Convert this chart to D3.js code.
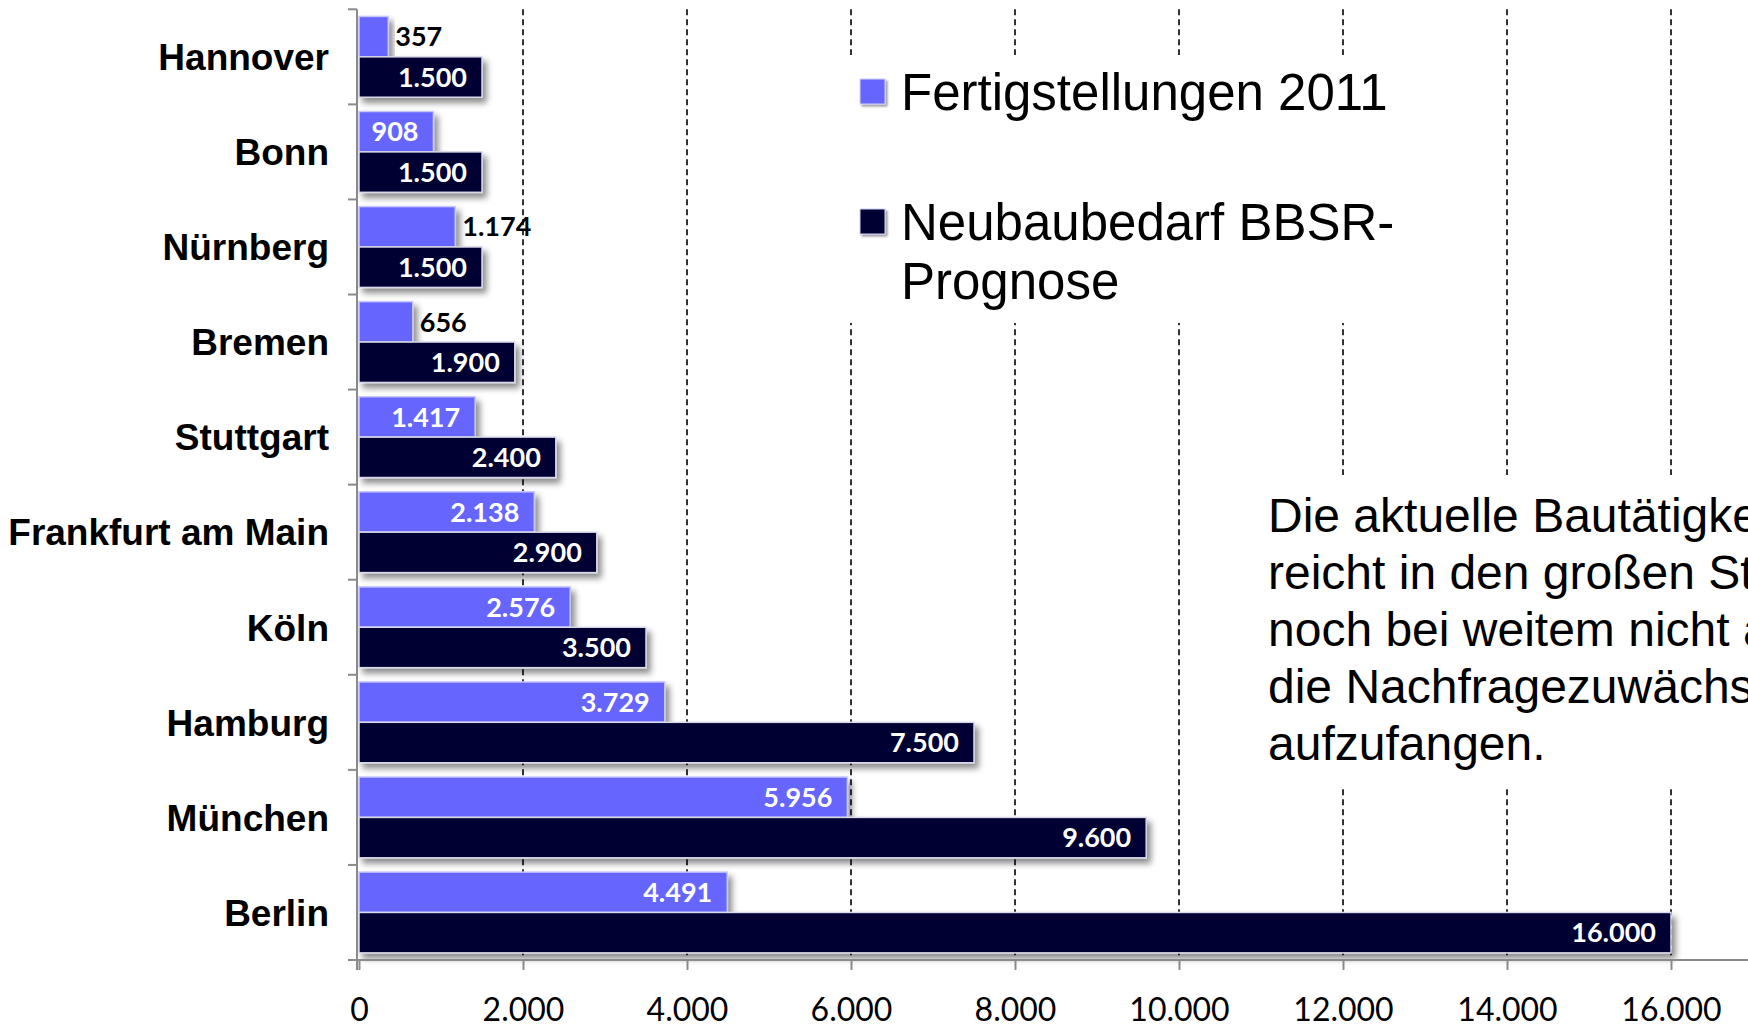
<!DOCTYPE html>
<html>
<head>
<meta charset="utf-8">
<script src="https://cdn.jsdelivr.net/npm/d3@7"></script>
<style>
  html, body { margin: 0; padding: 0; background: #fff; overflow: hidden; }
  svg { display: block; }
</style>
</head>
<body>
<svg id="chart" width="1748" height="1028"></svg>
<script>
// ---- data ----
const cities = ["Hannover", "Bonn", "Nürnberg", "Bremen", "Stuttgart", "Frankfurt am Main", "Köln", "Hamburg", "München", "Berlin"];
const fertigstellungen2011 = [357, 908, 1174, 656, 1417, 2138, 2576, 3729, 5956, 4491];
const neubaubedarf = [1500, 1500, 1500, 1900, 2400, 2900, 3500, 7500, 9600, 16000];
const xTicks = [0, 2000, 4000, 6000, 8000, 10000, 12000, 14000, 16000, 18000];
const seriesNames = ["Fertigstellungen 2011", ["Neubaubedarf BBSR-", "Prognose"]];
const outsideLabelCities = ["Hannover", "Nürnberg", "Bremen"];
const noteLines = ["Die aktuelle Bautätigkeit", "reicht in den großen Städten", "noch bei weitem nicht aus, um", "die Nachfragezuwächse", "aufzufangen."];

// ---- setup ----
const colors = ["#6666ff", "#000033"];
const de = d3.formatLocale({decimal: ",", thousands: ".", grouping: [3], currency: ["", "€"]});
const fmt = de.format(",d");

const svg = d3.select("#chart");
const W = 1748, H = 1028;
const x0 = 359, plotTop = 9.3, plotBottom = 960;

const x = d3.scaleLinear().domain([0, 18000]).range([x0, x0 + 18 * 82]);
const y = d3.scaleBand().domain(cities).range([plotTop, plotBottom]).paddingInner(0.15).paddingOuter(0.075);
const sub = d3.scaleBand().domain([0, 1]).range([0, y.bandwidth()]);

const defs = svg.append("defs");
const f = defs.append("filter").attr("id", "shadow").attr("x", "-10%").attr("y", "-30%").attr("width", "130%").attr("height", "180%");
f.append("feDropShadow").attr("dx", 4).attr("dy", 5).attr("stdDeviation", 3).attr("flood-color", "#000").attr("flood-opacity", 0.45);
const fs = defs.append("filter").attr("id", "shadowSmall").attr("x", "-20%").attr("y", "-20%").attr("width", "160%").attr("height", "160%");
fs.append("feDropShadow").attr("dx", 2).attr("dy", 2).attr("stdDeviation", 1.2).attr("flood-color", "#000").attr("flood-opacity", 0.4);

// ---- gridlines ----
svg.append("g").selectAll("line").data(xTicks.filter(d => d > 0)).join("line")
  .attr("x1", d => x(d)).attr("x2", d => x(d))
  .attr("y1", plotTop).attr("y2", plotBottom)
  .attr("stroke", "#000").attr("stroke-width", 1.6).attr("stroke-dasharray", "6,4");

// ---- white boxes (legend and note) covering gridlines ----
svg.append("rect").attr("x", 838).attr("y", 55).attr("width", 565).attr("height", 268).attr("fill", "#fff");
svg.append("rect").attr("x", 1245).attr("y", 475).attr("width", 520).attr("height", 311).attr("fill", "#fff");

// ---- bars ----
const rows = cities.map((c, i) => ({city: c, vals: [fertigstellungen2011[i], neubaubedarf[i]]}));
const groups = svg.append("g").selectAll("g").data(rows).join("g")
  .attr("transform", d => `translate(0,${y(d.city)})`);

groups.selectAll("rect").data(d => d.vals.map((v, k) => ({v, k, city: d.city}))).join("rect")
  .attr("x", x(0))
  .attr("y", d => sub(d.k))
  .attr("width", d => x(d.v) - x(0))
  .attr("height", sub.bandwidth())
  .attr("fill", d => colors[d.k])
  .attr("stroke", d => d.k === 0 ? "#c8c8ff" : "#d8d8e8")
  .attr("stroke-width", 1.5)
  .attr("filter", "url(#shadow)");

// ---- value labels ----
const lblSize = 27;
groups.selectAll("text").data(d => d.vals.map((v, k) => ({v, k, city: d.city}))).join("text")
  .attr("font-family", "Lato, 'Open Sans', sans-serif")
  .attr("font-weight", 700)
  .attr("font-size", lblSize)
  .attr("y", d => sub(d.k) + sub.bandwidth() / 2 + lblSize * 0.36)
  .each(function(d) {
    const outside = d.k === 0 && outsideLabelCities.includes(d.city);
    d3.select(this)
      .attr("x", outside ? x(d.v) + 7 : x(d.v) - 15)
      .attr("text-anchor", outside ? "start" : "end")
      .attr("fill", outside ? "#000" : "#fff");
  })
  .text(d => fmt(d.v));

// ---- axes ----
const axisColor = "#8a8a8a";
svg.append("line").attr("x1", x0 - 2).attr("x2", x0 - 2).attr("y1", plotTop).attr("y2", plotBottom + 10)
  .attr("stroke", axisColor).attr("stroke-width", 2);
const step = y.step();
svg.append("g").selectAll("line").data(d3.range(cities.length + 1)).join("line")
  .attr("x1", x0 - 11).attr("x2", x0 - 2)
  .attr("y1", i => plotTop + i * step).attr("y2", i => plotTop + i * step)
  .attr("stroke", axisColor).attr("stroke-width", 2);

const xAxis = svg.append("g").attr("transform", `translate(0,${plotBottom})`)
  .call(d3.axisBottom(x).tickValues(xTicks).tickSize(10).tickPadding(30).tickFormat(fmt));
xAxis.select(".domain").attr("stroke", axisColor).attr("stroke-width", 2)
  .attr("d", `M${x0 - 2},0H${W + 100}`);
xAxis.selectAll(".tick line").attr("stroke", axisColor).attr("stroke-width", 2);
xAxis.selectAll(".tick text")
  .attr("font-family", "Lato, 'Open Sans', sans-serif")
  .attr("font-size", 32)
  .attr("fill", "#000")
  .attr("dy", null)
  .attr("y", 61);

// category labels
const catSize = 37;
svg.append("g").selectAll("text").data(cities).join("text")
  .attr("x", 329)
  .attr("y", d => y(d) + y.bandwidth() / 2 + catSize * 0.358)
  .attr("text-anchor", "end")
  .attr("font-family", "'Liberation Sans', Arial, sans-serif")
  .attr("font-weight", 700)
  .attr("font-size", catSize)
  .attr("fill", "#000")
  .text(d => d);

// ---- legend ----
const legY = [79, 209];
const leg = svg.append("g");
seriesNames.forEach((name, i) => {
  leg.append("rect").attr("x", 860).attr("y", legY[i]).attr("width", 25).attr("height", 25)
    .attr("fill", colors[i]).attr("stroke", "#d0d0ff").attr("stroke-width", 1).attr("filter", "url(#shadowSmall)");
  const lines = Array.isArray(name) ? name : [name];
  const t = leg.append("text")
    .attr("font-family", "'Liberation Sans', Arial, sans-serif")
    .attr("font-size", 51)
    .attr("fill", "#000");
  lines.forEach((ln, j) => {
    t.append("tspan").attr("x", 901).attr("y", legY[i] + 31 + j * 59).text(ln);
  });
});

// ---- note text ----
const note = svg.append("text")
  .attr("font-family", "'Liberation Sans', Arial, sans-serif")
  .attr("font-size", 48)
  .attr("fill", "#000");
noteLines.forEach((ln, j) => {
  note.append("tspan").attr("x", 1268).attr("y", 532 + j * 57).text(ln);
});
</script>
</body>
</html>
